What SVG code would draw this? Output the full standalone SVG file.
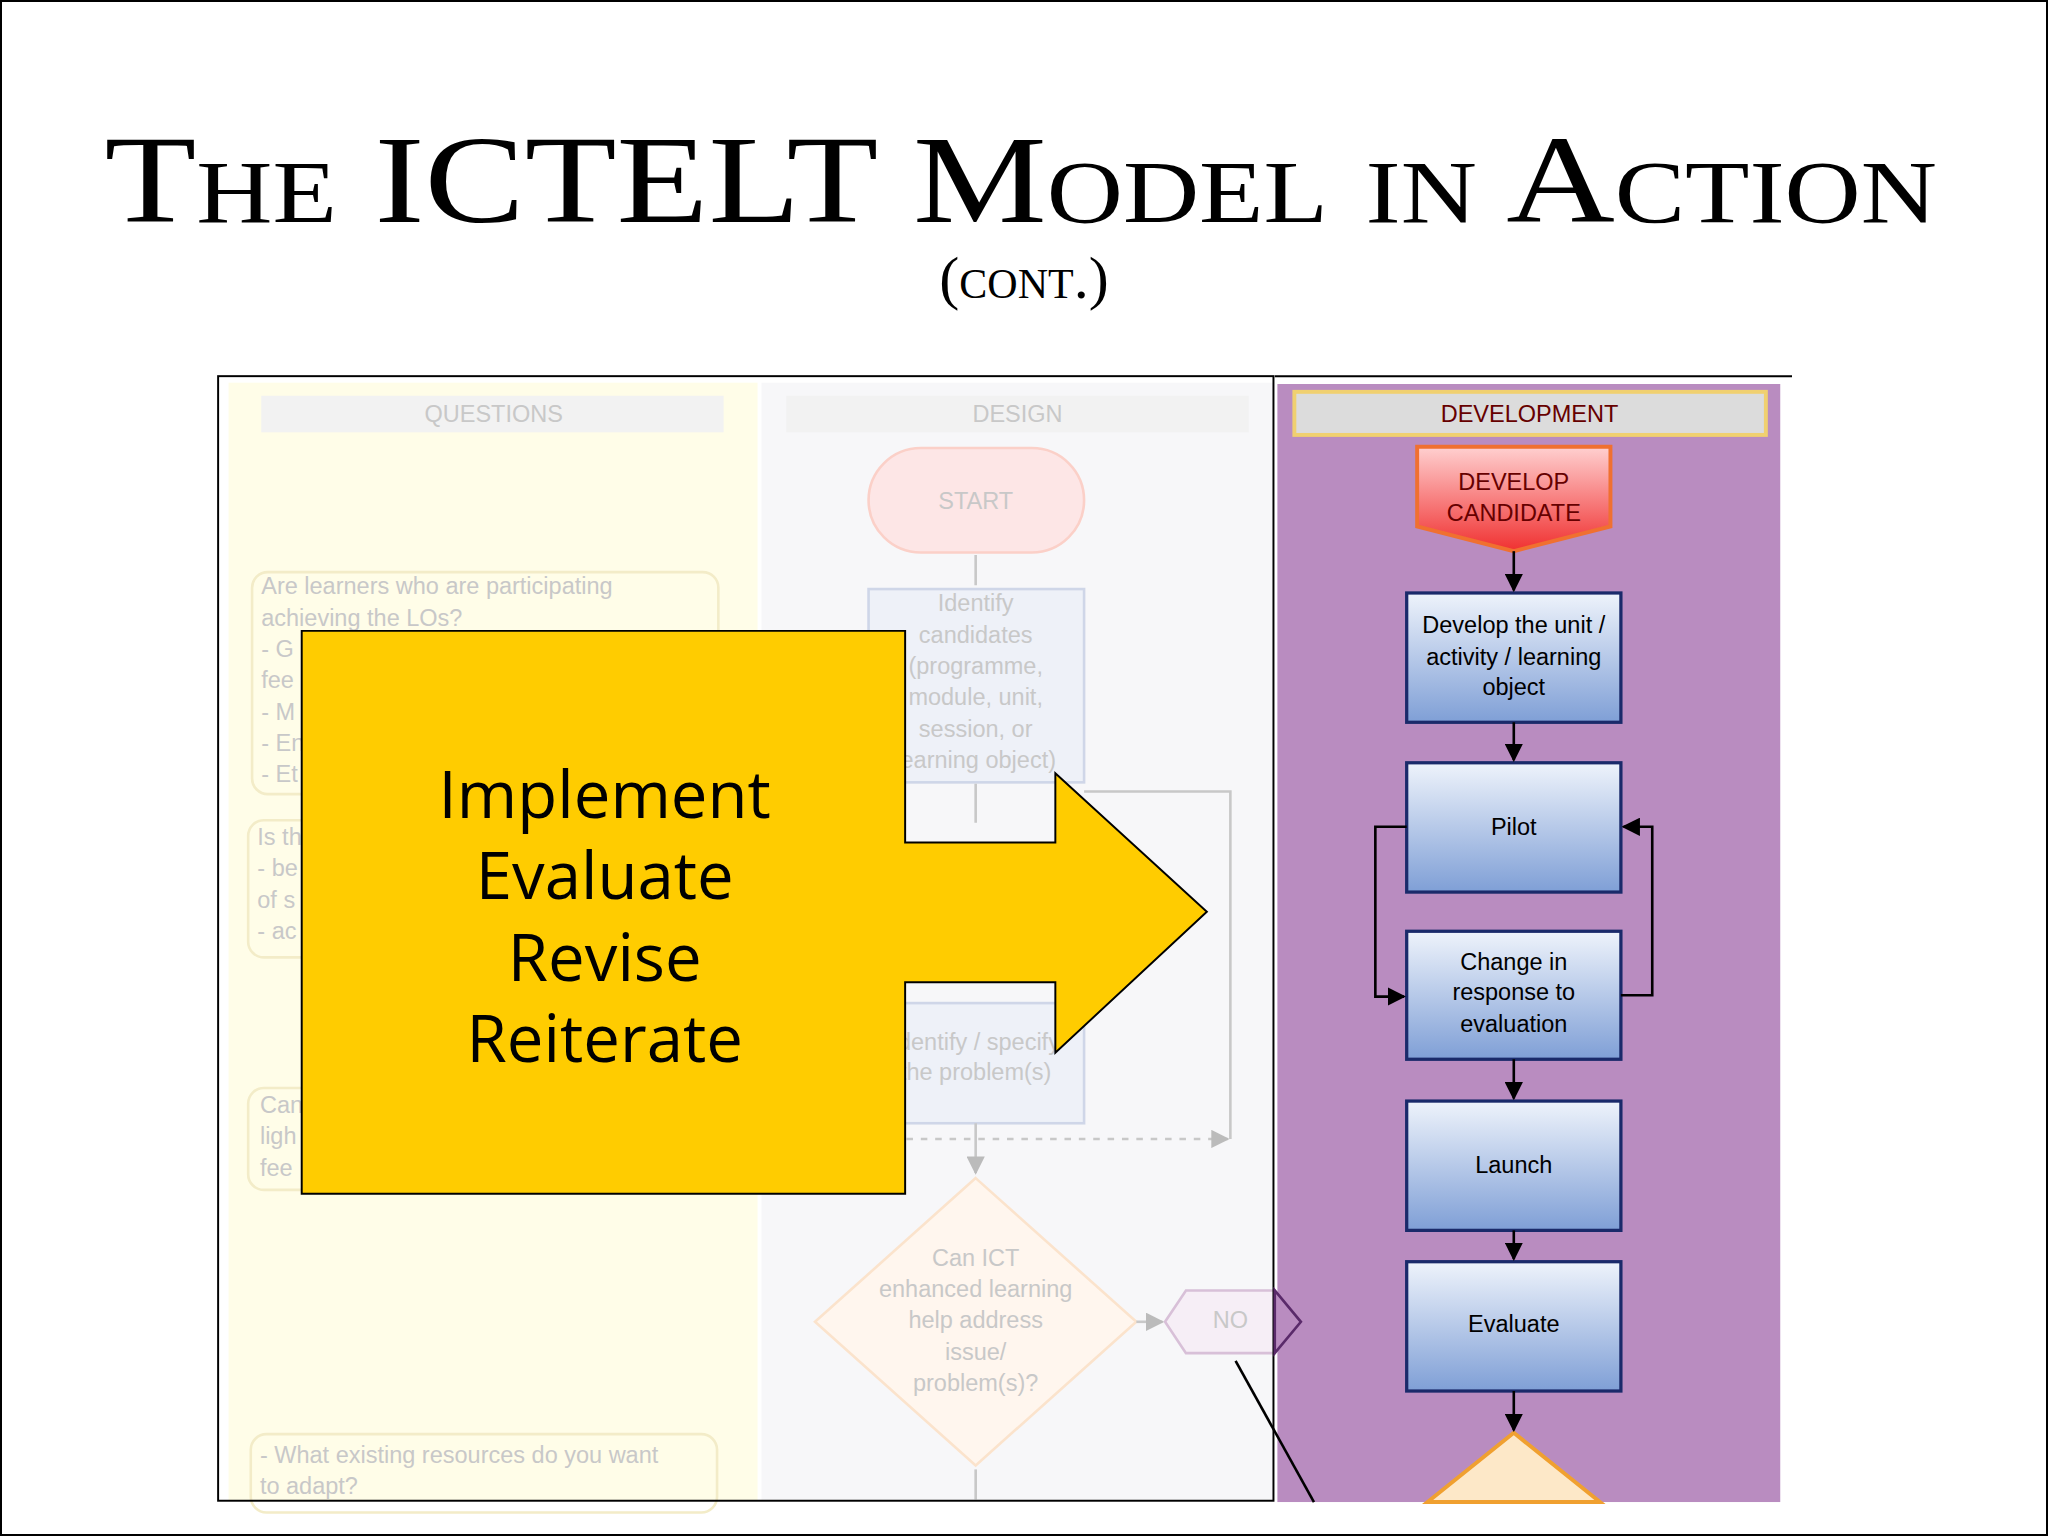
<svg xmlns="http://www.w3.org/2000/svg" width="2048" height="1536" viewBox="0 0 2048 1536">
<defs>
<linearGradient id="bx" x1="0" y1="0" x2="0" y2="1"><stop offset="0" stop-color="#eef3fb"/><stop offset="1" stop-color="#7f9fd6"/></linearGradient>
<linearGradient id="rd" x1="0" y1="0" x2="0" y2="1"><stop offset="0" stop-color="#ffd0d0"/><stop offset="1" stop-color="#f03030"/></linearGradient>
<marker id="ah" viewBox="0 0 10 10" refX="9" refY="5" markerWidth="7" markerHeight="7" orient="auto"><path d="M0,0 L10,5 L0,10 z" fill="#000"/></marker>
<marker id="fh" viewBox="0 0 10 10" refX="9" refY="5" markerWidth="7" markerHeight="7" orient="auto"><path d="M0,0 L10,5 L0,10 z" fill="#bbb"/></marker>
</defs>
<style>
.box{fill:url(#bx);stroke:#1a2a6a;stroke-width:2.5}
.t{font-family:"Liberation Sans",Arial,sans-serif;font-size:18px;fill:#000;text-anchor:middle}
.r{fill:#600}
.f{font-family:"Liberation Sans",Arial,sans-serif;font-size:18px;fill:#c8c8c8}
.fc{text-anchor:middle}
.ln{stroke:#000;stroke-width:2;fill:none}
.fl{stroke:#c8c8c8;stroke-width:2;fill:none}
.big{font-family:"Open Sans","Liberation Sans",sans-serif;font-size:50px;fill:#000;text-anchor:middle}
</style>
<rect x="1" y="1" width="2046" height="1534" fill="#fff" stroke="#000" stroke-width="2"/>
<g transform="scale(1.30612)">
<g id="title">
<text x="80" y="170" font-family="Liberation Serif,serif" font-size="96" textLength="1403" lengthAdjust="spacingAndGlyphs" style="font-variant:small-caps">The ICTELT Model in Action</text>
<text x="784" y="228" font-family="Liberation Serif,serif" font-size="46" text-anchor="middle" style="font-variant:small-caps">(cont.)</text>
</g>
<g id="background">
<rect x="167" y="288" width="808" height="861" fill="#fff"/>
<rect x="175" y="293" width="405" height="856" fill="#fffde8"/>
<rect x="583" y="293" width="392" height="856" fill="#f7f7f9"/>
<rect x="200" y="303" width="354" height="28" fill="#f2f2f2"/>
<text class="f fc" x="378" y="323">QUESTIONS</text>
<rect x="602" y="303" width="354" height="28" fill="#f2f2f2"/>
<text class="f fc" x="779" y="323">DESIGN</text>
<rect x="665" y="343" width="165" height="80" rx="40" fill="#fde6e6" stroke="#fbd0c8" stroke-width="2"/>
<text class="f fc" x="747" y="390">START</text>
<rect x="193" y="438" width="357" height="170" rx="12" fill="none" stroke="#f3ecc8" stroke-width="2"/>
<text class="f" x="200" y="455">Are learners who are participating</text>
<text class="f" x="200" y="479">achieving the LOs?</text>
<text class="f" x="200" y="503">- G</text><text class="f" x="200" y="527">fee</text><text class="f" x="200" y="551">- M</text><text class="f" x="200" y="575">- En</text><text class="f" x="200" y="599">- Et</text>
<rect x="190" y="628" width="60" height="105" rx="12" fill="none" stroke="#f3ecc8" stroke-width="2"/>
<text class="f" x="197" y="647">Is th</text><text class="f" x="197" y="671">- be</text><text class="f" x="197" y="695">of s</text><text class="f" x="197" y="719">- ac</text>
<rect x="190" y="833" width="60" height="78" rx="12" fill="none" stroke="#f3ecc8" stroke-width="2"/>
<text class="f" x="199" y="852">Can</text><text class="f" x="199" y="876">ligh</text><text class="f" x="199" y="900">fee</text>
<rect x="192" y="1098" width="357" height="60" rx="12" fill="none" stroke="#f3ecc8" stroke-width="2"/>
<text class="f" x="199" y="1120">- What existing resources do you want</text>
<text class="f" x="199" y="1144">to adapt?</text>
<rect x="665" y="451" width="165" height="148" fill="#eef1f8" stroke="#cfd6e8" stroke-width="2"/>
<text class="f fc" x="747" y="468">Identify</text><text class="f fc" x="747" y="492">candidates</text><text class="f fc" x="747" y="516">(programme,</text><text class="f fc" x="747" y="540">module, unit,</text><text class="f fc" x="747" y="564">session, or</text><text class="f fc" x="747" y="588">learning object)</text>
<rect x="665" y="768" width="165" height="92" fill="#eef1f8" stroke="#cfd6e8" stroke-width="2"/>
<text class="f fc" x="747" y="804">Identify / specify</text><text class="f fc" x="747" y="827">the problem(s)</text>
<path class="fl" d="M747,425 V448 M747,600 V630 M830,606 H942 V872 M747,860 V898" marker-end="url(#fh)"/>
<path d="M694,872 H940" stroke="#c8c8c8" stroke-width="2" stroke-dasharray="5,6" fill="none" marker-end="url(#fh)"/>
<polygon points="747,902 870,1012 747,1122 624,1012" fill="#fff6ee" stroke="#fbe3cc" stroke-width="2"/>
<text class="f fc" x="747" y="969">Can ICT</text><text class="f fc" x="747" y="993">enhanced learning</text><text class="f fc" x="747" y="1017">help address</text><text class="f fc" x="747" y="1041">issue/</text><text class="f fc" x="747" y="1065">problem(s)?</text>
<path class="fl" d="M870,1012 H890" marker-end="url(#fh)"/>
<polygon points="892,1012 908,988 976,988 976,1036 908,1036" fill="#f6eef6" stroke="#d8c0d8" stroke-width="2"/>
<text class="f fc" x="942" y="1017">NO</text>
<path class="fl" d="M747,1125 V1148"/>
</g>
<rect x="167" y="288" width="808" height="861" fill="none" stroke="#000" stroke-width="1.5"/>
<g id="dev">
<path d="M976,288 H1372" stroke="#000" stroke-width="1.5"/>
<rect x="978" y="294" width="385" height="856" fill="#b98cc0"/>
<polygon points="976,988 996,1012 976,1036" fill="#b98cc0" stroke="#5a2a6a" stroke-width="2"/>
<rect x="991" y="300" width="361" height="33" fill="#dcdcdc" stroke="#f0d070" stroke-width="3"/>
<text class="t r" x="1171" y="323">DEVELOPMENT</text>
</g>
<g id="cand"><polygon points="1085,342 1233,342 1233,403 1159,422 1085,403" fill="url(#rd)" stroke="#f07030" stroke-width="3"/>
<text class="t r" x="1159" y="375">DEVELOP</text><text class="t r" x="1159" y="399">CANDIDATE</text></g>
<g id="b1"><rect class="box" x="1077" y="454" width="164" height="99"/><text class="t" x="1159" y="485">Develop the unit /</text><text class="t" x="1159" y="509">activity / learning</text><text class="t" x="1159" y="532">object</text></g>
<g id="b2"><rect class="box" x="1077" y="584" width="164" height="99"/><text class="t" x="1159" y="639">Pilot</text></g>
<g id="b3"><rect class="box" x="1077" y="713" width="164" height="98"/><text class="t" x="1159" y="743">Change in</text><text class="t" x="1159" y="766">response to</text><text class="t" x="1159" y="790">evaluation</text></g>
<g id="b4"><rect class="box" x="1077" y="843" width="164" height="99"/><text class="t" x="1159" y="898">Launch</text></g>
<g id="b5"><rect class="box" x="1077" y="966" width="164" height="99"/><text class="t" x="1159" y="1020">Evaluate</text></g>
<g id="d"><polygon points="1159,1097 1225,1150 1093,1150" fill="#fde8c8" stroke="#f0a030" stroke-width="3"/></g>
<g id="connectors">
<path class="ln" d="M1159,422 V452" marker-end="url(#ah)"/>
<path class="ln" d="M1159,553 V582" marker-end="url(#ah)"/>
<path class="ln" d="M1077,633 H1053 V763 H1075" marker-end="url(#ah)"/>
<path class="ln" d="M1241,762 H1265 V633 H1243" marker-end="url(#ah)"/>
<path class="ln" d="M1159,811 V841" marker-end="url(#ah)"/>
<path class="ln" d="M1159,942 V964" marker-end="url(#ah)"/>
<path class="ln" d="M1159,1065 V1095" marker-end="url(#ah)"/>
<path class="ln" d="M946,1042 L1006,1150"/>
</g>
<g id="callout">
<path d="M231,483 H693 V645 H808 V592 L924,698 L808,806 V752 H693 V914 H231 Z" fill="#ffcc00" stroke="#000" stroke-width="1.5"/>
<text class="big" x="463" y="626">Implement</text>
<text class="big" x="463" y="688">Evaluate</text>
<text class="big" x="463" y="751">Revise</text>
<text class="big" x="463" y="813">Reiterate</text>
</g>
</g>
</svg>
